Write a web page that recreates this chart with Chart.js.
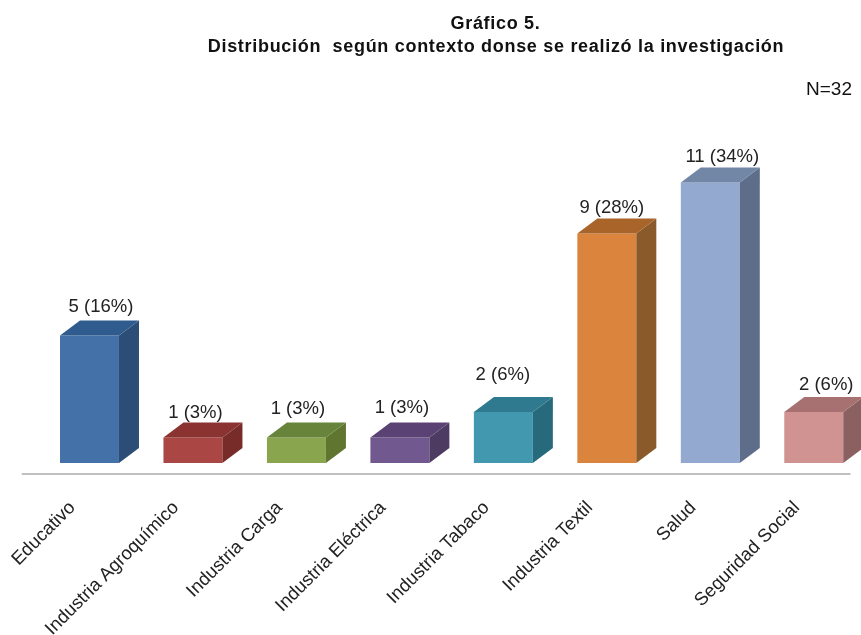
<!DOCTYPE html>
<html>
<head>
<meta charset="utf-8">
<style>
html,body{margin:0;padding:0;background:#fff;overflow:hidden}
#wrap{width:861px;height:635px;overflow:hidden}
canvas{display:block}
</style>
<script src="https://cdn.jsdelivr.net/npm/chart.js@4"></script>
</head>
<body>
<div id="wrap"><canvas id="c" width="890" height="635"></canvas></div>
<script>
const categories = ["Educativo","Industria Agroquímico","Industria Carga","Industria Eléctrica","Industria Tabaco","Industria Textil","Salud","Seguridad Social"];
const counts = [5,1,1,1,2,9,11,2];
const percents = [16,3,3,3,6,28,34,6];
const titleLines = ["Gráfico 5.","Distribución  según contexto donse se realizó la investigación"];
const sampleNote = "N=32";
const frontColors = ["#4472A8","#AA4643","#89A54E","#71588F","#4198AF","#DB843D","#93A9CF","#D19392"];
const sideColors = ["#2C4D75","#772C2A","#5F7530","#4D3B62","#276A7C","#8B5A2B","#5E6D89","#8A6160"];
const topColors = ["#2F5B8F","#8A3331","#67843A","#5A4374","#2F7A8E","#A9642A","#7286A6","#A67170"];
const labelShiftX = [11.5,2.5,1.5,2,-0.5,5,12,12.5];
const labelLift = [29,25,29,30,37,26,26,27];

const extras = {
  id: "extras",
  afterDatasetsDraw(chart) {
    const ctx = chart.ctx;
    const meta = chart.getDatasetMeta(0);
    const dx = 20, dy = 15;
    ctx.save();
    meta.data.forEach((bar, i) => {
      const l = bar.x - bar.width / 2, r = bar.x + bar.width / 2, t = bar.y, b = bar.base;
      ctx.fillStyle = sideColors[i];
      ctx.beginPath();
      ctx.moveTo(r, t); ctx.lineTo(r + dx, t - dy); ctx.lineTo(r + dx, b - dy); ctx.lineTo(r, b);
      ctx.closePath(); ctx.fill();
      ctx.fillStyle = topColors[i];
      ctx.beginPath();
      ctx.moveTo(l, t); ctx.lineTo(l + dx, t - dy); ctx.lineTo(r + dx, t - dy); ctx.lineTo(r, t);
      ctx.closePath(); ctx.fill();
      ctx.fillStyle = "#222";
      ctx.font = "18.5px 'Liberation Sans'";
      ctx.textAlign = "center";
      ctx.textBaseline = "middle";
      ctx.fillText(counts[i] + " (" + percents[i] + "%)", bar.x + labelShiftX[i], t - labelLift[i]);
    });
    // separated axis rule
    const area = chart.chartArea;
    ctx.strokeStyle = "#ABABAB";
    ctx.lineWidth = 1.5;
    ctx.beginPath();
    ctx.moveTo(area.left - 16, area.bottom);
    ctx.lineTo(area.right - 15, area.bottom);
    ctx.stroke();
    // titles
    ctx.fillStyle = "#111";
    ctx.textAlign = "center";
    ctx.textBaseline = "middle";
    ctx.font = "bold 18px 'Liberation Sans'";
    ctx.letterSpacing = "0.7px";
    ctx.fillText(titleLines[0], 495.5, 24);
    ctx.fillText(titleLines[1], 496, 47.5);
    ctx.letterSpacing = "0px";
    ctx.font = "19px 'Liberation Sans'";
    ctx.textAlign = "right";
    ctx.fillText(sampleNote, 852, 90);
    ctx.restore();
  }
};

new Chart(document.getElementById("c"), {
  type: "bar",
  data: {
    labels: categories,
    datasets: [{ data: counts, backgroundColor: frontColors, borderWidth: 0, categoryPercentage: 0.57, barPercentage: 1 }]
  },
  options: {
    responsive: false,
    animation: false,
    layout: { padding: { left: 37.75, right: 24.5, top: 0, bottom: 0 } },
    plugins: { legend: { display: false }, title: { display: false }, tooltip: { enabled: false } },
    scales: {
      x: {
        offset: true,
        grid: { display: false, drawBorder: false },
        border: { display: false },
        ticks: {
          autoSkip: false, minRotation: 45, maxRotation: 45, align: "end",
          labelOffset: -17, padding: 15, color: "#222",
          font: { family: "'Liberation Sans'", size: 18.5 }
        },
        afterFit(s) { s.height = 161; s.paddingLeft = 0; s.paddingRight = 0; }
      },
      y: { display: false, min: -0.431, max: 18.16 }
    }
  },
  plugins: [extras]
});
</script>
</body>
</html>
